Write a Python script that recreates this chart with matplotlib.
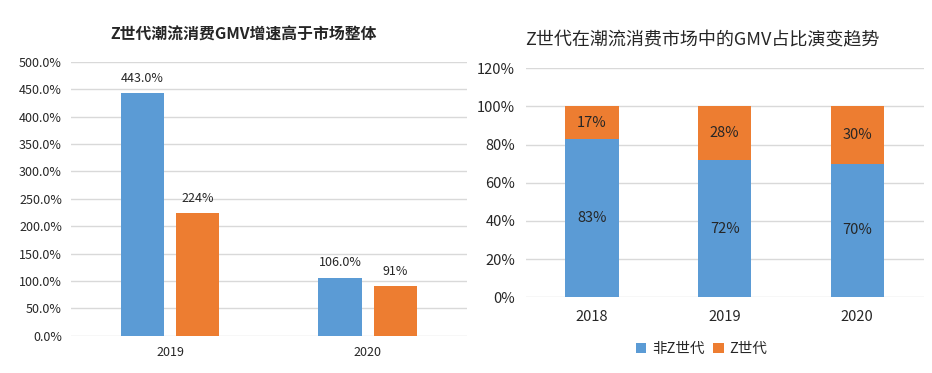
import matplotlib as mpl
mpl.use('Agg')
import matplotlib.pyplot as plt
import numpy as np

plt.rcParams['font.family'] = ['Noto Sans CJK SC', 'DejaVu Sans']

## data
years_left = ['2019', '2020']
gen_z_growth = [443.0, 106.0]
market_growth = [224.0, 91.0]
gen_z_labels = ['443.0%', '106.0%']
market_labels = ['224%', '91%']

years_right = ['2018', '2019', '2020']
non_gen_z_share = [83, 72, 70]
gen_z_share = [17, 28, 30]

BLUE = '#5B9BD5'
ORANGE = '#ED7D31'
GRID = '#D9D9D9'
TEXT = '#262626'

fig = plt.figure(figsize=(9.32, 3.73), dpi=100)

######################
## left: growth bars
######################
ax1 = fig.add_axes([0.0762, 0.100, 0.4248, 0.734])
x = np.arange(len(years_left))
w = 0.22
off = 0.14
b1 = ax1.bar(x - off, gen_z_growth, width=w, color=BLUE, zorder=3)
b2 = ax1.bar(x + off, market_growth, width=w, color=ORANGE, zorder=3)
for bars, labels in ((b1, gen_z_labels), (b2, market_labels)):
    for bar, lab in zip(bars, labels):
        ax1.annotate(lab, (bar.get_x() + bar.get_width() / 2, bar.get_height()),
                     xytext=(0, 6), textcoords='offset points',
                     ha='center', va='bottom', fontsize=9, color=TEXT)
ax1.set_xlim(-0.5, 1.5)
ax1.set_ylim(0, 500)
ax1.set_yticks(np.arange(0, 501, 50))
ax1.set_yticklabels(['{:.1f}%'.format(v) for v in np.arange(0, 501, 50)])
ax1.set_xticks(x)
ax1.set_xticklabels(years_left)
ax1.tick_params(axis='both', length=0, labelsize=9, labelcolor=TEXT)
ax1.tick_params(axis='y', pad=6.5)
ax1.tick_params(axis='x', pad=7.5)
ax1.grid(axis='y', color=GRID, linewidth=1, zorder=0)
for s in ax1.spines.values():
    s.set_visible(False)
fig.text(244 / 932, 1 - 35 / 373, 'Z世代潮流消费GMV增速高于市场整体', fontsize=11.4,
         fontweight='bold', color=TEXT, ha='center', va='center')

######################
## right: stacked share
######################
ax2 = fig.add_axes([0.564, 0.203, 0.427, 0.614])
x2 = np.arange(len(years_right))
w2 = 0.4
s1 = ax2.bar(x2, non_gen_z_share, width=w2, color=BLUE, zorder=3, label='非Z世代')
s2 = ax2.bar(x2, gen_z_share, width=w2, bottom=non_gen_z_share, color=ORANGE,
             zorder=3, label='Z世代')
for i in range(len(years_right)):
    ax2.text(x2[i], non_gen_z_share[i] / 2, '{}%'.format(non_gen_z_share[i]),
             ha='center', va='center', fontsize=10.5, color=TEXT, zorder=4)
    ax2.text(x2[i], non_gen_z_share[i] + gen_z_share[i] / 2, '{}%'.format(gen_z_share[i]),
             ha='center', va='center', fontsize=10.5, color=TEXT, zorder=4)
ax2.set_xlim(-0.5, 2.5)
ax2.set_ylim(0, 120)
ax2.set_yticks(np.arange(0, 121, 20))
ax2.set_yticklabels(['{}%'.format(v) for v in np.arange(0, 121, 20)])
ax2.set_xticks(x2)
ax2.set_xticklabels(years_right)
ax2.tick_params(axis='both', length=0, labelsize=10.5, labelcolor=TEXT)
ax2.tick_params(axis='y', pad=7.5)
ax2.tick_params(axis='x', pad=9)
ax2.grid(axis='y', color=GRID, linewidth=1, zorder=0)
for s in ax2.spines.values():
    s.set_visible(False)
fig.text(702 / 932, 1 - 40 / 373, 'Z世代在潮流消费市场中的GMV占比演变趋势', fontsize=13,
         color=TEXT, ha='center', va='center')

fig.legend(handles=[s1, s2], loc='center', bbox_to_anchor=(0.753, 0.064), ncol=2,
           frameon=False, fontsize=10.5, handlelength=0.7, handleheight=0.7,
           handletextpad=0.4, columnspacing=0.6, labelcolor=TEXT)

plt.savefig('out.png', dpi=100)
